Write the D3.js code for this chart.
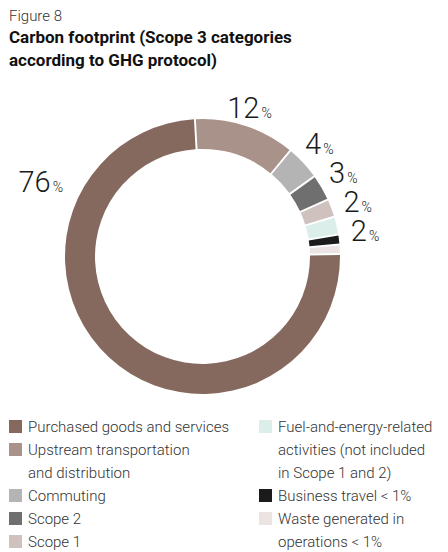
<!DOCTYPE html>
<html>
<head>
<meta charset="utf-8">
<script src="https://cdn.jsdelivr.net/npm/d3@7"></script>
<style>
  html, body { margin: 0; padding: 0; background: #fff; }
  svg { display: block; font-family: Roboto, "Noto Sans", sans-serif; }
</style>
</head>
<body>
<svg id="chart" width="448" height="552"></svg>
<script>
// Scope 3 categories, in drawing order (the largest first, ending at 12 o'clock)
const categories = [
  "Purchased goods and services",
  "Upstream transportation and distribution",
  "Commuting",
  "Scope 2",
  "Scope 1",
  "Fuel-and-energy-related activities (not included in Scope 1 and 2)",
  "Business travel < 1%",
  "Waste generated in operations < 1%"
];
// Share of the carbon footprint, percent
const values = [76, 12, 4, 3, 2, 2, 0.99, 0.95];
// Percent labels drawn next to the ring (null = not labelled)
const valueLabels = ["76", "12", "4", "3", "2", "2", null, null];
const colors = ["#85695f", "#a8928a", "#b4b4b4", "#6f6f6f", "#cfc1bd", "#dbeee9", "#1b1b1b", "#ebe4e3"];
// Legend text, split into lines, and the column each entry sits in
const legendLines = [
  ["Purchased goods and services"],
  ["Upstream transportation", "and distribution"],
  ["Commuting"],
  ["Scope 2"],
  ["Scope 1"],
  ["Fuel-and-energy-related", "activities (not included", "in Scope 1 and 2)"],
  ["Business travel < 1%"],
  ["Waste generated in", "operations < 1%"]
];
const legendColumn = [0, 0, 0, 0, 0, 1, 1, 1];

const svg = d3.select("#chart");

// Heading
svg.append("text").attr("x", 9).attr("y", 21)
  .attr("font-size", 15).attr("font-weight", 300).attr("fill", "#333")
  .text("Figure 8");
svg.append("text").attr("x", 9).attr("y", 43)
  .attr("font-size", 17).attr("font-weight", 700).attr("fill", "#111")
  .text("Carbon footprint (Scope 3 categories");
svg.append("text").attr("x", 9).attr("y", 66)
  .attr("font-size", 17).attr("font-weight", 700).attr("fill", "#111")
  .text("according to GHG protocol)");

// Donut
const cx = 202.5, cy = 256.5, outerR = 137.5, innerR = 107.5;
const total = d3.sum(values);
const start = -2 * Math.PI * values[0] / total;
const pie = d3.pie().sort(null).value(d => d)
  .startAngle(start).endAngle(start + 2 * Math.PI)
  .padAngle(0.011);
const arcs = pie(values);
const arc = d3.arc().innerRadius(innerR).outerRadius(outerR);

const g = svg.append("g").attr("transform", `translate(${cx},${cy})`);
g.selectAll("path").data(arcs).join("path")
  .attr("d", arc)
  .attr("fill", (d, i) => colors[i]);

// Percent labels around the ring
const labelR = 150;
const minGap = 29;
const labels = [];
arcs.forEach((d, i) => {
  if (!valueLabels[i]) return;
  if (i === 0) {
    // the large slice is labelled on its upper-left part
    const a = -62 * Math.PI / 180, r = 158;
    labels.push({ i, anchor: "end", x: r * Math.sin(a), y: -r * Math.cos(a) + 10 });
    return;
  }
  const mid = (d.startAngle + d.endAngle) / 2;
  if (mid < Math.PI / 6) {
    labels.push({ i, anchor: "middle", x: labelR * Math.sin(mid), y: -labelR * Math.cos(mid) + 4 });
  } else {
    labels.push({ i, anchor: "start", side: true, mid, cy: -labelR * Math.cos(mid) });
  }
});
// spread the crowded labels on the right so they do not overlap
const side = labels.filter(l => l.side);
for (let it = 0; it < 100; it++) {
  for (let k = 1; k < side.length; k++) {
    const gap = side[k].cy - side[k - 1].cy;
    if (gap < minGap) {
      const push = (minGap - gap) / 2;
      side[k - 1].cy -= push;
      side[k].cy += push;
    }
  }
}
side.forEach(l => {
  l.x = Math.sqrt(Math.max(0, labelR * labelR - l.cy * l.cy));
  l.y = l.cy + 7;
});

const lt = g.selectAll("text.pct").data(labels).join("text")
  .attr("class", "pct")
  .attr("x", l => l.x).attr("y", l => l.y)
  .attr("text-anchor", l => l.anchor)
  .attr("fill", "#1a1a1a").attr("font-weight", 300);
lt.append("tspan").attr("font-size", 29).text(l => valueLabels[l.i]);
lt.append("tspan").attr("font-size", 14).attr("dx", 2).text("%");

// Legend
const legend = svg.append("g");
const colX = [9, 259], textDX = 19, rowTop = 427, rowH = 23;
const rowIndex = [0, 0];
categories.forEach((c, i) => {
  const col = legendColumn[i];
  const y = rowTop + rowIndex[col] * rowH;
  legend.append("rect")
    .attr("x", colX[col]).attr("y", y - 7)
    .attr("width", 13).attr("height", 13)
    .attr("fill", colors[i]);
  legendLines[i].forEach((line, j) => {
    legend.append("text")
      .attr("x", colX[col] + textDX).attr("y", y + 5 + j * rowH)
      .attr("font-size", 15).attr("font-weight", 300).attr("fill", "#333")
      .text(line);
  });
  rowIndex[col] += legendLines[i].length;
});
</script>
</body>
</html>
